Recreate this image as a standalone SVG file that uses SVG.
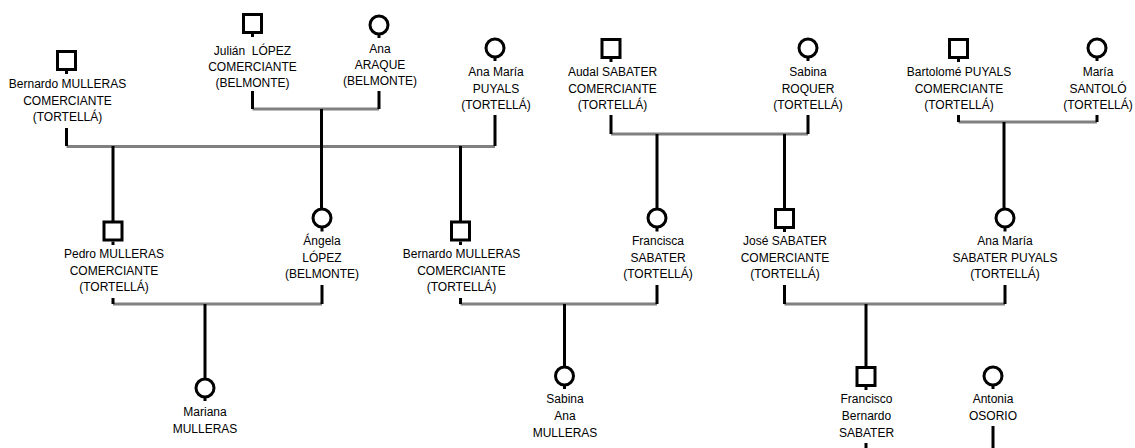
<svg xmlns="http://www.w3.org/2000/svg" width="1135" height="448" viewBox="0 0 1135 448">
<style>
  .m { fill: #fff; stroke: #000; stroke-width: 3; }
  .f { fill: #fff; stroke: #000; stroke-width: 3; }
  .stub { stroke: #000; stroke-width: 3; }
  .t { font-family: "Liberation Sans", Arial, sans-serif; font-size: 12px; fill: #000; text-anchor: middle; white-space: pre; }
  .couple { stroke: #808080; stroke-width: 3; fill: none; }
  .link { stroke: #000; stroke-width: 3; fill: none; }
</style>
<rect width="1135" height="448" fill="#fff"/>
<g id="connectors">
  <path class="couple" d="M66.5 146.5H495M252.5 109H379M611 134H808M958.5 122H1097M113 304H322M460.5 304H657M784.5 304H1005"/>
  <path class="link" d="M66.5 128V146M252.5 91V109M379 91V109M495 115V146M611 115V134M808 115V134M958.5 115V122M1097 115V122M113 298V304M322 285V304M460.5 298V304M657 285V304M784.5 285V304M1005 285V304"/>
  <path class="link" d="M113 146V221M460.5 146V221M321.5 109V209M657 134V209M784.5 134V209M1004 122V209M205 304V378M564.5 304V367M866 304V367"/>
  <path class="link" d="M866 443V448M993 426V448"/>
</g>
<g id="n-bernardo-mulleras-1">
  <rect class="m" x="57.5" y="51.5" width="18" height="18"/><line class="stub" x1="66.5" y1="71" x2="66.5" y2="74"/>
  <text class="t" x="67.5" y="88">Bernardo MULLERAS</text><text class="t" x="67.5" y="104.5">COMERCIANTE</text><text class="t" x="67.5" y="121">(TORTELLÁ)</text>
</g>
<g id="n-julian-lopez">
  <rect class="m" x="243.5" y="14.5" width="18" height="18"/><line class="stub" x1="252.5" y1="34" x2="252.5" y2="37"/>
  <text class="t" x="252.5" y="55" xml:space="preserve">Julián  LÓPEZ</text><text class="t" x="252.5" y="71">COMERCIANTE</text><text class="t" x="252.5" y="87">(BELMONTE)</text>
</g>
<g id="n-ana-araque">
  <circle class="f" cx="379" cy="25" r="9"/><line class="stub" x1="379" y1="35" x2="379" y2="38"/>
  <text class="t" x="380" y="53">Ana</text><text class="t" x="380" y="69">ARAQUE</text><text class="t" x="380" y="85">(BELMONTE)</text>
</g>
<g id="n-ana-maria-puyals">
  <circle class="f" cx="495" cy="48" r="9"/><line class="stub" x1="495" y1="58" x2="495" y2="61"/>
  <text class="t" x="496" y="76">Ana María</text><text class="t" x="496" y="92.5">PUYALS</text><text class="t" x="496" y="109">(TORTELLÁ)</text>
</g>
<g id="n-audal-sabater">
  <rect class="m" x="602" y="39.5" width="18" height="18"/><line class="stub" x1="611" y1="59" x2="611" y2="62"/>
  <text class="t" x="612.5" y="76">Audal SABATER</text><text class="t" x="612.5" y="92.5">COMERCIANTE</text><text class="t" x="612.5" y="109">(TORTELLÁ)</text>
</g>
<g id="n-sabina-roquer">
  <circle class="f" cx="808" cy="48" r="9"/><line class="stub" x1="808" y1="58" x2="808" y2="61"/>
  <text class="t" x="808" y="76">Sabina</text><text class="t" x="808" y="92.5">ROQUER</text><text class="t" x="808" y="109">(TORTELLÁ)</text>
</g>
<g id="n-bartolome-puyals">
  <rect class="m" x="949.5" y="39.5" width="18" height="18"/><line class="stub" x1="958.5" y1="59" x2="958.5" y2="62"/>
  <text class="t" x="959" y="76">Bartolomé PUYALS</text><text class="t" x="959" y="92.5">COMERCIANTE</text><text class="t" x="959" y="109">(TORTELLÁ)</text>
</g>
<g id="n-maria-santolo">
  <circle class="f" cx="1097" cy="48" r="9"/><line class="stub" x1="1097" y1="58" x2="1097" y2="61"/>
  <text class="t" x="1098" y="76">María</text><text class="t" x="1098" y="92.5">SANTOLÓ</text><text class="t" x="1098" y="109">(TORTELLÁ)</text>
</g>
<g id="n-pedro-mulleras">
  <rect class="m" x="104" y="222" width="18" height="18"/><line class="stub" x1="113" y1="241.5" x2="113" y2="245"/>
  <text class="t" x="114" y="258">Pedro MULLERAS</text><text class="t" x="114" y="274.5">COMERCIANTE</text><text class="t" x="114" y="291">(TORTELLÁ)</text>
</g>
<g id="n-angela-lopez">
  <circle class="f" cx="322" cy="218" r="9"/><line class="stub" x1="322" y1="228" x2="322" y2="231.5"/>
  <text class="t" x="322" y="245">Ángela</text><text class="t" x="322" y="261.5">LÓPEZ</text><text class="t" x="322" y="278">(BELMONTE)</text>
</g>
<g id="n-bernardo-mulleras-2">
  <rect class="m" x="451.5" y="222" width="18" height="18"/><line class="stub" x1="460.5" y1="241.5" x2="460.5" y2="245"/>
  <text class="t" x="461.5" y="258">Bernardo MULLERAS</text><text class="t" x="461.5" y="274.5">COMERCIANTE</text><text class="t" x="461.5" y="291">(TORTELLÁ)</text>
</g>
<g id="n-francisca-sabater">
  <circle class="f" cx="657" cy="218" r="9"/><line class="stub" x1="657" y1="228" x2="657" y2="231.5"/>
  <text class="t" x="658" y="245">Francisca</text><text class="t" x="658" y="261.5">SABATER</text><text class="t" x="658" y="278">(TORTELLÁ)</text>
</g>
<g id="n-jose-sabater">
  <rect class="m" x="775.5" y="209.5" width="18" height="18"/><line class="stub" x1="784.5" y1="229" x2="784.5" y2="232"/>
  <text class="t" x="785" y="245">José SABATER</text><text class="t" x="785" y="261.5">COMERCIANTE</text><text class="t" x="785" y="278">(TORTELLÁ)</text>
</g>
<g id="n-ana-maria-sabater-puyals">
  <circle class="f" cx="1005" cy="218" r="9"/><line class="stub" x1="1005" y1="228" x2="1005" y2="231.5"/>
  <text class="t" x="1005" y="245">Ana María</text><text class="t" x="1005" y="261.5">SABATER PUYALS</text><text class="t" x="1005" y="278">(TORTELLÁ)</text>
</g>
<g id="n-mariana-mulleras">
  <circle class="f" cx="205" cy="388" r="9"/><line class="stub" x1="205" y1="398" x2="205" y2="401"/>
  <text class="t" x="205" y="416">Mariana</text><text class="t" x="205" y="432.5">MULLERAS</text>
</g>
<g id="n-sabina-ana-mulleras">
  <circle class="f" cx="564.5" cy="376" r="9"/><line class="stub" x1="564.5" y1="386" x2="564.5" y2="389"/>
  <text class="t" x="565" y="403">Sabina</text><text class="t" x="565" y="420">Ana</text><text class="t" x="565" y="436.5">MULLERAS</text>
</g>
<g id="n-francisco-bernardo-sabater">
  <rect class="m" x="857" y="367.5" width="18" height="18"/><line class="stub" x1="866" y1="387" x2="866" y2="390"/>
  <text class="t" x="866.5" y="403">Francisco</text><text class="t" x="866.5" y="420">Bernardo</text><text class="t" x="866.5" y="436.5">SABATER</text>
</g>
<g id="n-antonia-osorio">
  <circle class="f" cx="993" cy="376" r="9"/><line class="stub" x1="993" y1="386" x2="993" y2="389"/>
  <text class="t" x="993" y="403">Antonia</text><text class="t" x="993" y="420">OSORIO</text>
</g>
</svg>
